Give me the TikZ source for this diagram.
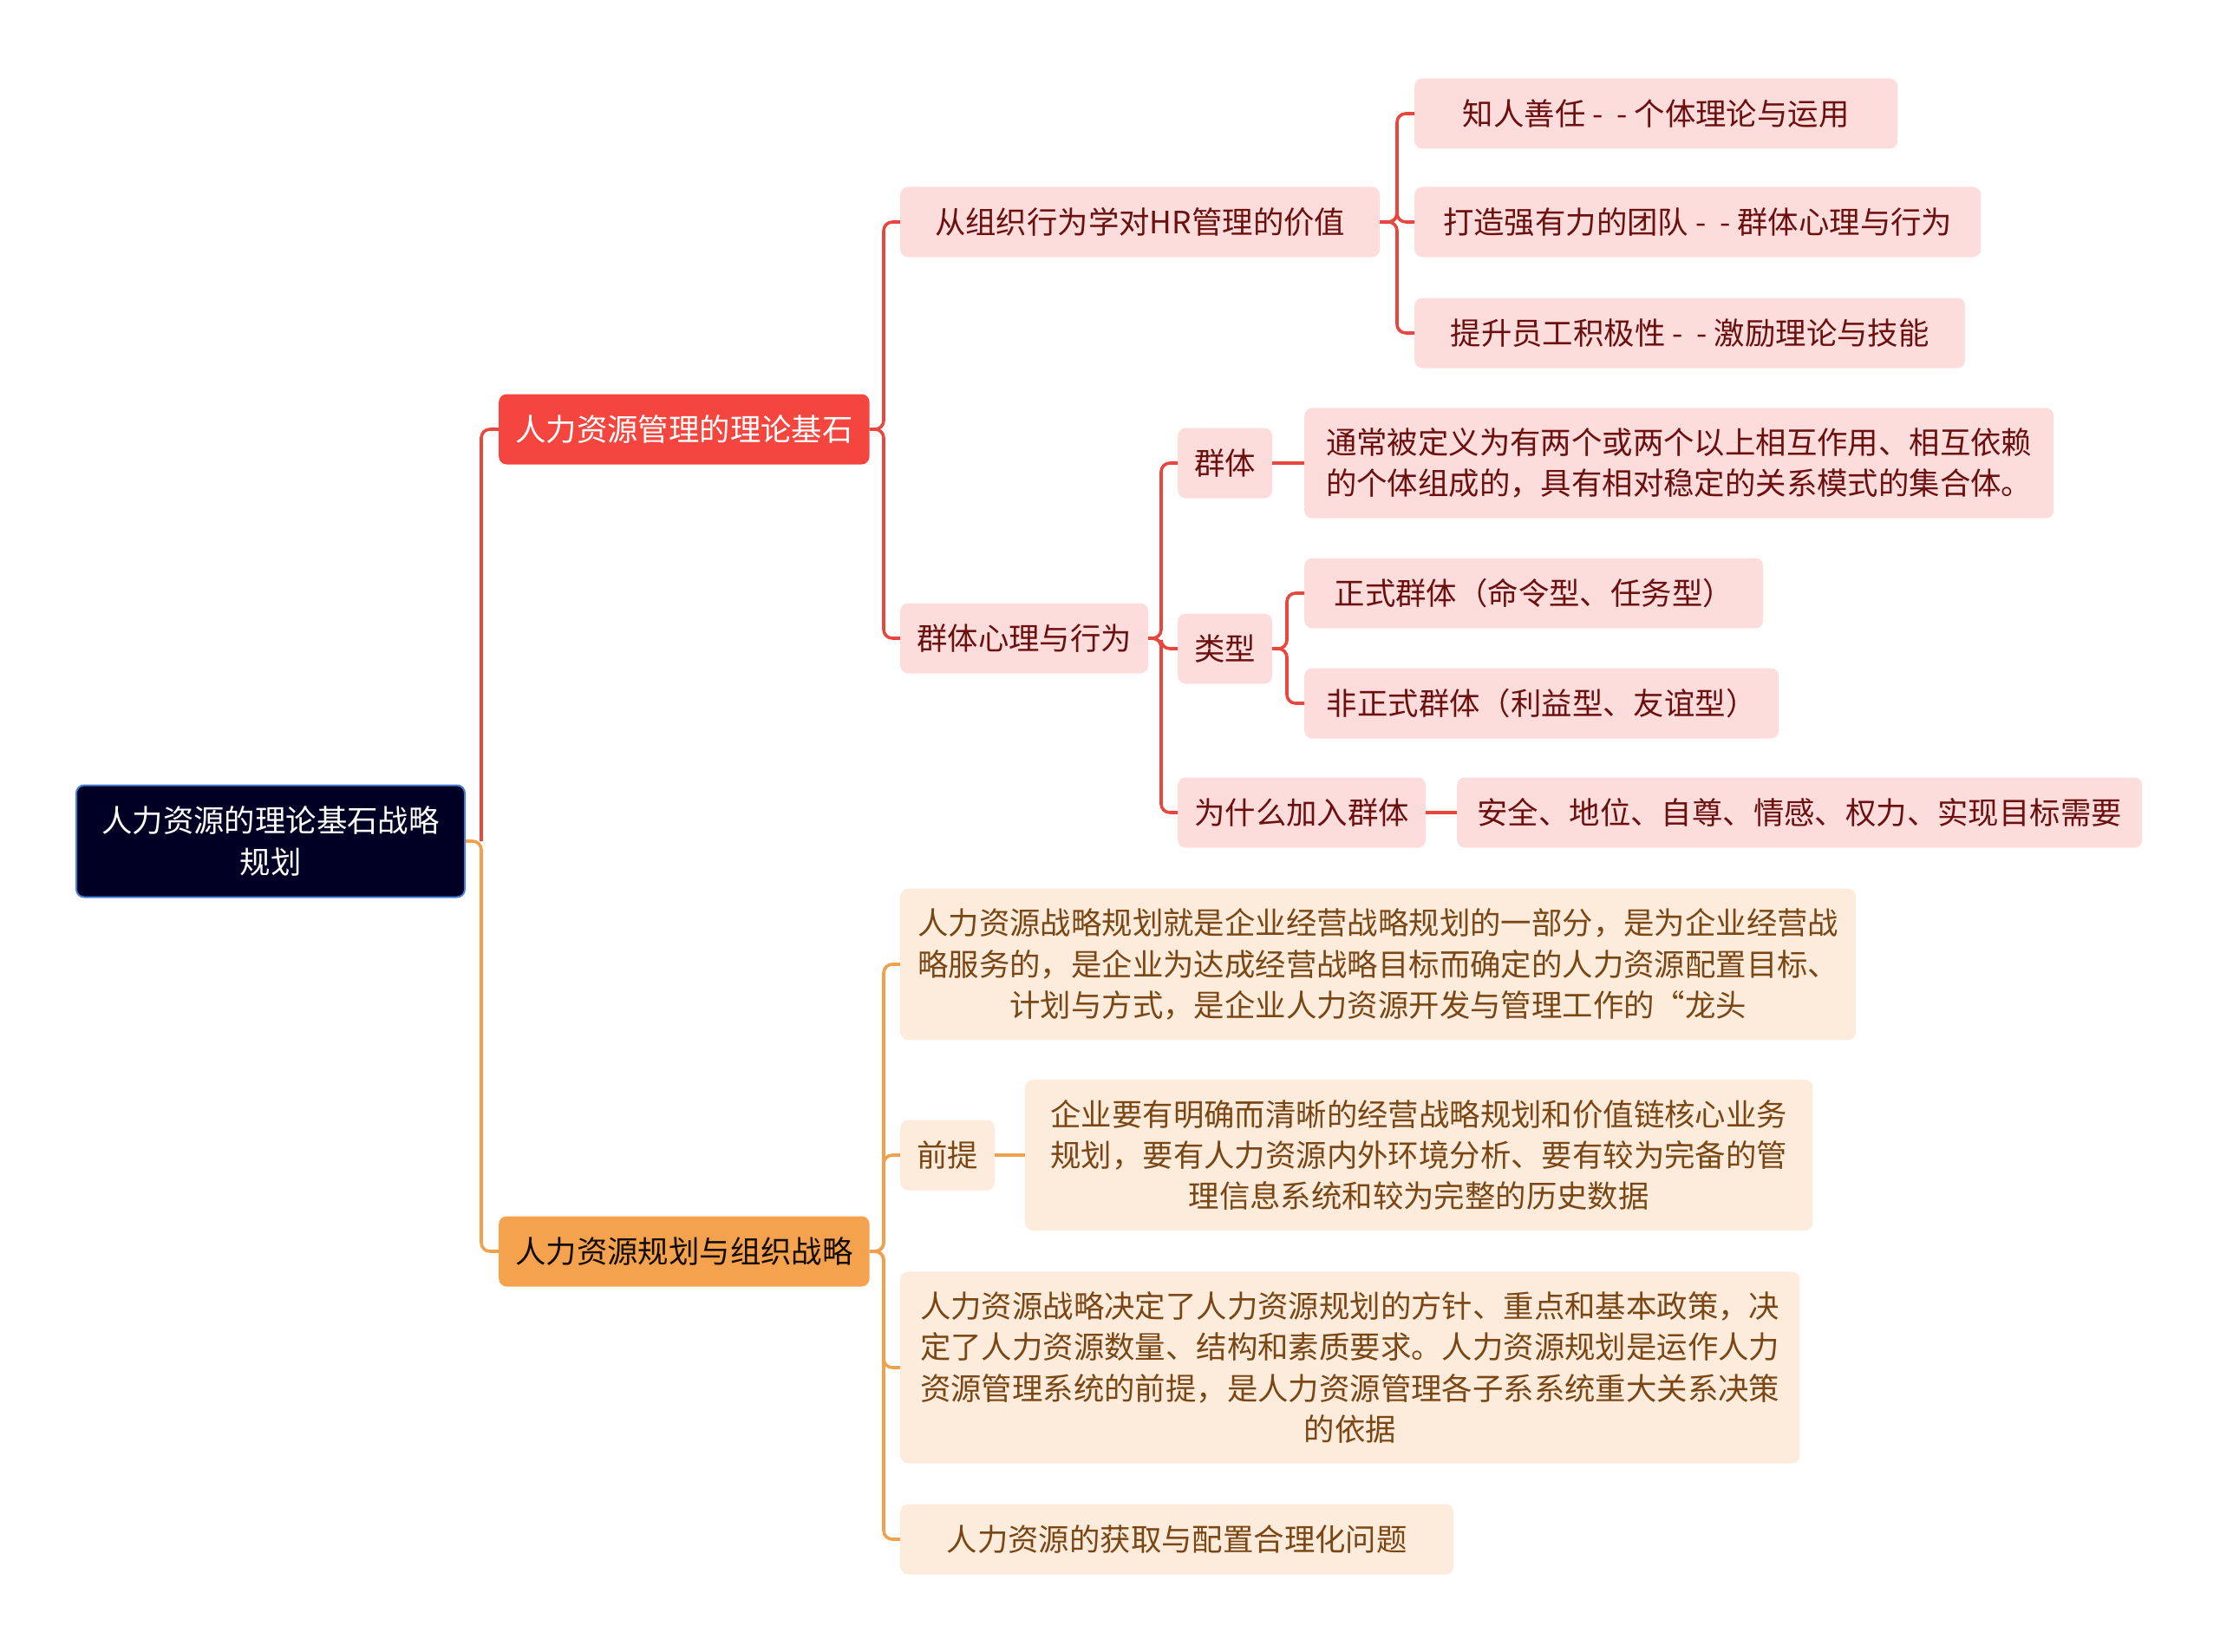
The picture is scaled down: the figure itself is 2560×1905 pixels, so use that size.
\documentclass[tikz,border=0pt]{standalone}
\usepackage{fontspec}
\setmainfont{Noto Sans CJK SC}
\definecolor{rootfill}{HTML}{000025}
\definecolor{rootline}{HTML}{4A7FD8}
\definecolor{redmain}{HTML}{F4463E}
\definecolor{redline}{HTML}{E8473F}
\definecolor{redsoft}{HTML}{FDDCDC}
\definecolor{redtext}{HTML}{6B0F0F}
\definecolor{orgmain}{HTML}{F5A24E}
\definecolor{orgline}{HTML}{F0A14E}
\definecolor{orgsoft}{HTML}{FDEBDC}
\definecolor{orgtext}{HTML}{7A4614}
\begin{document}
\begin{tikzpicture}[x=1pt, y=-1pt,
    box/.style={rectangle, rounded corners=9pt, inner xsep=19pt, inner ysep=23pt,
                minimum height=81pt, anchor=west, align=center,
                font=\fontsize{35.4}{47.4}\selectfont},
    rootbox/.style={box, anchor=center, fill=rootfill, draw=rootline, line width=2pt,
                    text=white, minimum width=448pt, minimum height=129pt},
    redtop/.style={box, fill=redmain, text=white},
    redsub/.style={box, fill=redsoft, text=redtext},
    orgtop/.style={box, fill=orgmain, text=black!85!orgtext},
    orgsub/.style={box, fill=orgsoft, text=orgtext},
    redlink/.style={draw=redline, line width=3.6pt, rounded corners=10pt},
    orglink/.style={draw=orgline, line width=3.6pt, rounded corners=10pt}
]
\useasboundingbox (0,0) rectangle (2560,1905);

% root and main branches
\node[rootbox] (root) at (312,970) {人力资源的理论基石战略\\规划};
\node[redtop] (base) at (575,495) {人力资源管理的理论基石};
\node[orgtop] (plan) at (575,1443) {人力资源规划与组织战略};

% red branch
\node[redsub, minimum width=553pt] (value) at (1038,256) {从组织行为学对HR管理的价值};
\node[redsub] (group) at (1038,736) {群体心理与行为};

\node[redsub, minimum width=557pt] (v1) at (1631,131) {知人善任 -\ \ - 个体理论与运用};
\node[redsub, minimum width=653pt] (v2) at (1631,256) {打造强有力的团队 -\ \ - 群体心理与行为};
\node[redsub, minimum width=635pt] (v3) at (1631,384) {提升员工积极性 -\ \ - 激励理论与技能};

\node[redsub] (g1) at (1358,534) {群体};
\node[redsub] (g2) at (1358,748) {类型};
\node[redsub] (g3) at (1358,937) {为什么加入群体};

\node[redsub, align=left, minimum width=864pt] (def) at (1504,534) {通常被定义为有两个或两个以上相互作用、相互依赖\\的个体组成的，具有相对稳定的关系模式的集合体。};
\node[redsub, minimum width=529pt] (t1) at (1504,684) {正式群体（命令型、任务型）};
\node[redsub, minimum width=547pt] (t2) at (1504,811) {非正式群体（利益型、友谊型）};
\node[redsub, minimum width=790pt] (why) at (1680,937) {安全、地位、自尊、情感、权力、实现目标需要};

% orange branch
\node[orgsub, minimum width=1102pt] (p1) at (1038,1112) {人力资源战略规划就是企业经营战略规划的一部分，是为企业经营战\\略服务的，是企业为达成经营战略目标而确定的人力资源配置目标、\\计划与方式，是企业人力资源开发与管理工作的“龙头};
\node[orgsub] (pre) at (1038,1332) {前提};
\node[orgsub, minimum width=908pt] (pre1) at (1182,1332) {企业要有明确而清晰的经营战略规划和价值链核心业务\\规划，要有人力资源内外环境分析、要有较为完备的管\\理信息系统和较为完整的历史数据};
\node[orgsub, minimum width=1037pt] (p3) at (1038,1577) {人力资源战略决定了人力资源规划的方针、重点和基本政策，决\\定了人力资源数量、结构和素质要求。人力资源规划是运作人力\\资源管理系统的前提，是人力资源管理各子系系统重大关系决策\\的依据};
\node[orgsub, minimum width=638pt] (p4) at (1038,1775) {人力资源的获取与配置合理化问题};

% connectors
\draw[orglink] (root.east) -- (555,970) |- (plan.west);
\draw[redlink] (555,970) |- (base.west);

\foreach \c in {value, group}
  \draw[redlink] (base.east) -- (1019,495) |- (\c.west);
\foreach \c in {v1, v2, v3}
  \draw[redlink] (value.east) -- (1611,256) |- (\c.west);
\foreach \c in {g1, g2, g3}
  \draw[redlink] (group.east) -- (1339,736) |- (\c.west);
\draw[redlink] (g1.east) -- (def.west);
\foreach \c in {t1, t2}
  \draw[redlink] (g2.east) -- (1484,748) |- (\c.west);
\draw[redlink] (g3.east) -- (why.west);

\foreach \c in {p1, pre, p3, p4}
  \draw[orglink] (plan.east) -- (1019,1443) |- (\c.west);
\draw[orglink] (pre.east) -- (pre1.west);
\end{tikzpicture}
\end{document}
